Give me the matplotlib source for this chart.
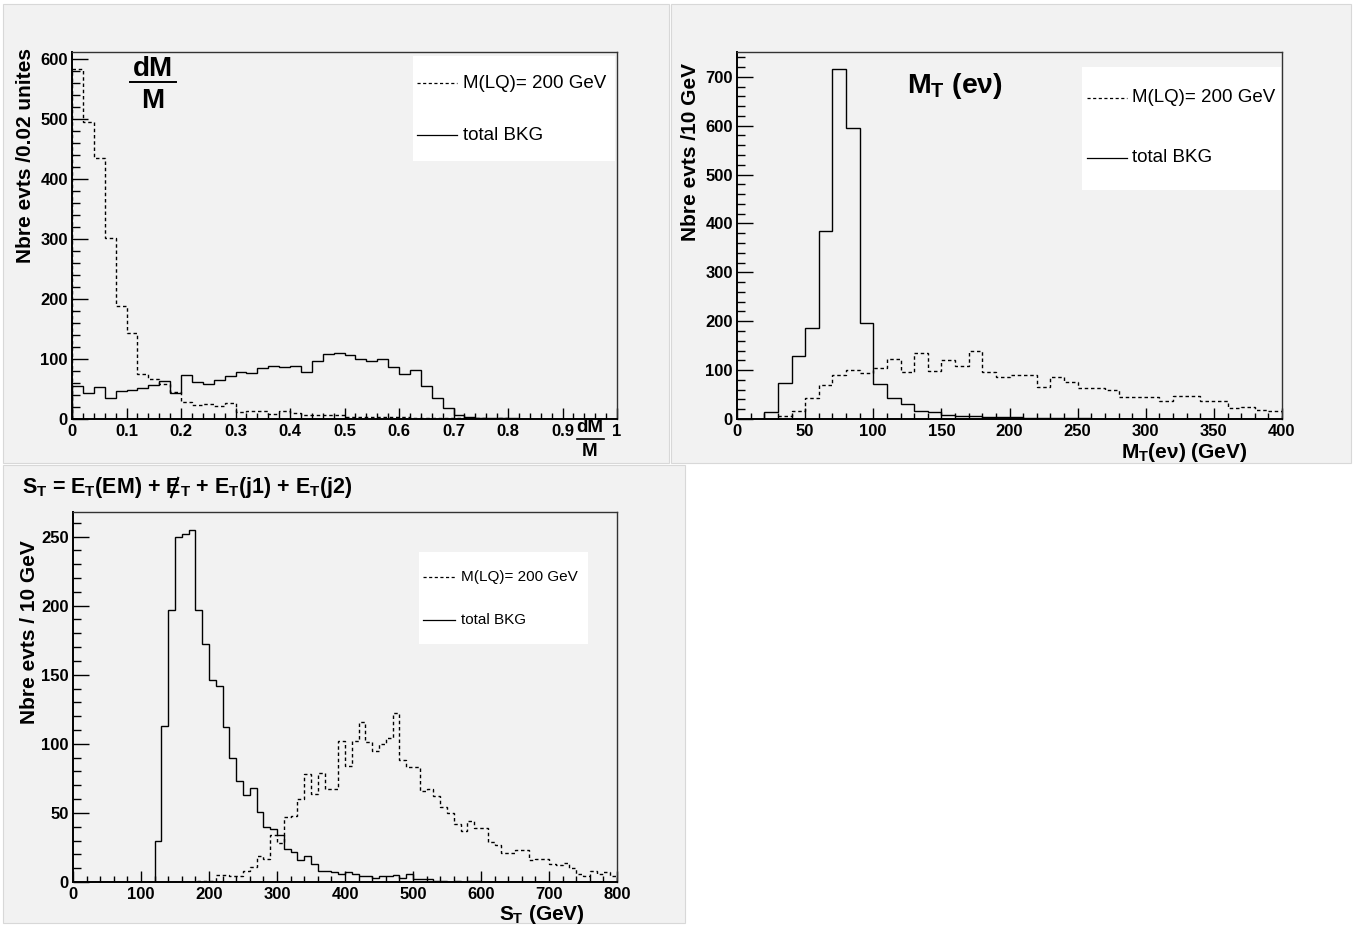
import numpy as np
import matplotlib
matplotlib.use("Agg")
import matplotlib.pyplot as plt
from matplotlib.patches import Rectangle
from matplotlib.lines import Line2D

plt.rcParams['font.family'] = ['Liberation Sans', 'DejaVu Sans']
plt.rcParams['mathtext.fontset'] = 'custom'
plt.rcParams['mathtext.rm'] = 'Liberation Sans:bold'
plt.rcParams['mathtext.it'] = 'Liberation Sans:bold'
plt.rcParams['mathtext.bf'] = 'Liberation Sans:bold'
plt.rcParams['mathtext.sf'] = 'Liberation Sans:bold'

# ---- data ----
# dM/M, 50 bins of 0.02 between 0 and 1
dm_edges = np.linspace(0, 1, 51)
sig_dm = [582, 494, 435, 302, 188, 143, 75, 66, 58, 45,
          29, 24, 25, 21, 27, 12, 14, 14, 9, 13,
          10, 7, 6, 6, 7, 3, 4, 3, 3, 4,
          3, 2, 2, 2, 2, 1, 1, 1, 0, 1,
          0, 0, 0, 0, 0, 0, 0, 0, 0, 0]
bkg_dm = [55, 44, 53, 35, 46, 49, 52, 57, 63, 43,
          74, 61, 58, 65, 72, 79, 76, 85, 88, 86,
          88, 78, 96, 109, 110, 107, 100, 97, 100, 86,
          75, 81, 55, 35, 18, 7, 4, 2, 1, 1,
          1, 0, 0, 0, 0, 0, 0, 0, 0, 0]

# M_T(e nu), 40 bins of 10 GeV between 0 and 400
mt_edges = np.linspace(0, 400, 41)
sig_mt = [0, 0, 0, 7, 17, 43, 70, 90, 101, 94,
          104, 122, 97, 134, 99, 121, 108, 140, 96, 85,
          89, 89, 65, 85, 75, 63, 63, 59, 44, 44,
          44, 37, 48, 48, 37, 37, 22, 24, 19, 17]
bkg_mt = [0, 0, 14, 73, 128, 187, 385, 715, 596, 197,
          71, 42, 31, 17, 14, 9, 7, 7, 5, 5,
          4, 3, 3, 2, 2, 2, 1, 1, 1, 1,
          1, 1, 0, 1, 0, 0, 0, 0, 0, 0]

# S_T, 80 bins of 10 GeV between 0 and 800
st_edges = np.linspace(0, 800, 81)
sig_st = [0, 0, 0, 0, 0, 0, 0, 0, 0, 0,
          0, 0, 0, 0, 0, 0, 0, 0, 1, 1,
          1, 5, 5, 4, 4, 8, 11, 19, 17, 34,
          28, 47, 48, 60, 78, 64, 79, 67, 67, 102,
          84, 102, 116, 101, 95, 100, 104, 122, 88, 83,
          83, 66, 67, 62, 54, 50, 42, 37, 44, 39,
          39, 29, 27, 21, 21, 23, 23, 16, 17, 17,
          13, 12, 14, 10, 6, 4, 8, 6, 7, 4]
bkg_st = [0, 0, 0, 0, 0, 0, 0, 0, 0, 0,
          0, 0, 30, 113, 197, 250, 252, 255, 197, 172,
          146, 142, 112, 90, 73, 63, 68, 51, 40, 38,
          34, 24, 22, 16, 19, 13, 8, 8, 7, 6,
          7, 6, 4, 4, 3, 4, 4, 5, 3, 6,
          2, 2, 2, 1, 1, 0, 1, 0, 1, 1,
          0, 0, 0, 0, 0, 0, 0, 0, 0, 0,
          0, 0, 0, 0, 0, 0, 0, 0, 0, 0]

sig_label = "M(LQ)= 200 GeV"
bkg_label = "total BKG"

W, H = 1354, 926
PAD = '#f2f2f2'
DASH = (0, (2.5, 2))
TICK_FS = 12


def fx(x):
    return x / W


def fy(y):
    return 1 - y / H


def rect(x0, y0, x1, y1):
    return [fx(x0), fy(y1), (x1 - x0) / W, (y1 - y0) / H]


fig = plt.figure(figsize=(W / 100, H / 100), dpi=100)
fig.patch.set_facecolor('white')
renderer = fig.canvas.get_renderer()

# pads
for (x0, y0, x1, y1) in [(3, 4, 669, 463), (671, 4, 1351, 463), (3, 465, 685, 923)]:
    fig.patches.append(Rectangle((fx(x0), fy(y1)), (x1 - x0) / W, (y1 - y0) / H,
                                 transform=fig.transFigure, facecolor=PAD,
                                 edgecolor='#d8d8d8', lw=0.8, zorder=-10))


def style_axes(ax, xlim, ylim, xmaj, xmin, ymaj, ymin):
    ax.set_facecolor(PAD)
    ax.set_xlim(*xlim)
    ax.set_ylim(*ylim)
    ax.set_xticks(np.arange(xlim[0], xlim[1] + xmaj / 2, xmaj))
    ax.set_xticks(np.arange(xlim[0], xlim[1] + xmin / 2, xmin), minor=True)
    ax.set_yticks(np.arange(0, ylim[1], ymaj))
    ax.set_yticks(np.arange(0, ylim[1], ymin), minor=True)
    ax.tick_params(axis='x', which='major', direction='in', length=8, width=1, pad=3.5,
                   labelsize=TICK_FS)
    ax.tick_params(axis='x', which='minor', direction='in', length=4, width=1)
    ax.tick_params(axis='y', which='major', direction='in', length=11.5, width=1, pad=3,
                   labelsize=TICK_FS)
    ax.tick_params(axis='y', which='minor', direction='in', length=6, width=1)
    for lab in ax.get_xticklabels() + ax.get_yticklabels():
        lab.set_fontweight('bold')
    for s in ['left', 'bottom']:
        ax.spines[s].set_linewidth(1.4)
        ax.spines[s].set_color('black')
    for s in ['top', 'right']:
        ax.spines[s].set_linewidth(1.0)
        ax.spines[s].set_color('#333333')


def legend_box(x0, y0, x1, y1, lx0, lx1, tx, ty1, ty2, size):
    fig.patches.append(Rectangle((fx(x0), fy(y1)), (x1 - x0) / W, (y1 - y0) / H,
                                 transform=fig.transFigure, facecolor='white',
                                 edgecolor='none', zorder=5))
    fig.lines.append(Line2D([fx(lx0), fx(lx1)], [fy(ty1), fy(ty1)], transform=fig.transFigure,
                            color='black', lw=0.9, linestyle=DASH, zorder=6))
    fig.lines.append(Line2D([fx(lx0), fx(lx1)], [fy(ty2), fy(ty2)], transform=fig.transFigure,
                            color='black', lw=0.9, zorder=6))
    fig.text(fx(tx), fy(ty1), sig_label, fontsize=size, va='center', ha='left', zorder=7)
    fig.text(fx(tx), fy(ty2), bkg_label, fontsize=size, va='center', ha='left', zorder=7)


# ---- panel 1 : dM/M ----
ax1 = fig.add_axes(rect(72, 52, 617, 419))
ax1.stairs(sig_dm, dm_edges, color='black', lw=1.0, linestyle=DASH)
ax1.stairs(bkg_dm, dm_edges, color='black', lw=1.0)
style_axes(ax1, (0, 1), (0, 1.05 * max(sig_dm)), 0.1, 0.02, 100, 20)
ax1.set_xticks(np.arange(0, 1.05, 0.1))
ax1.set_xticklabels(['0', '0.1', '0.2', '0.3', '0.4', '0.5', '0.6', '0.7', '0.8', '0.9', '1'],
                    fontweight='bold')
fig.text(fx(26), fy(48), "Nbre evts /0.02 unites", rotation=90, fontsize=15,
         fontweight='bold', ha='center', va='top')
# title fraction dM/M
fig.text(fx(153), fy(69), "dM", fontsize=20, fontweight='bold', ha='center', va='center')
fig.lines.append(Line2D([fx(130), fx(176)], [fy(82), fy(82)], transform=fig.transFigure,
                        color='black', lw=1.4))
fig.text(fx(153), fy(101), "M", fontsize=20, fontweight='bold', ha='center', va='center')
# x axis fraction label
fig.text(fx(590), fy(427), "dM", fontsize=13.5, fontweight='bold', ha='center', va='center')
fig.lines.append(Line2D([fx(577), fx(604)], [fy(439), fy(439)], transform=fig.transFigure,
                        color='black', lw=1.2))
fig.text(fx(590), fy(452), "M", fontsize=13.5, fontweight='bold', ha='center', va='center')
legend_box(413, 56, 615, 161, 417, 457, 463, 83, 135, 13.5)

# ---- panel 2 : M_T ----
ax2 = fig.add_axes(rect(737, 52, 1282, 419))
ax2.stairs(sig_mt, mt_edges, color='black', lw=1.0, linestyle=DASH)
ax2.stairs(bkg_mt, mt_edges, color='black', lw=1.0)
style_axes(ax2, (0, 400), (0, 1.05 * max(bkg_mt)), 50, 10, 100, 20)
fig.text(fx(691), fy(63), "Nbre evts /10 GeV", rotation=90, fontsize=15,
         fontweight='bold', ha='center', va='top')
fig.text(fx(907), fy(86), r"$M_T$ (e$\nu$)", fontsize=20.5, fontweight='bold',
         ha='left', va='center')
fig.text(fx(1248), fy(452), r"$M_T$(e$\nu$) (GeV)", fontsize=15, fontweight='bold',
         ha='right', va='center')
legend_box(1082, 67, 1281, 190, 1087, 1127, 1132, 98, 158, 13.5)

# ---- panel 3 : S_T ----
ax3 = fig.add_axes(rect(73, 512, 617, 882))
ax3.stairs(sig_st, st_edges, color='black', lw=1.0, linestyle=DASH)
ax3.stairs(bkg_st, st_edges, color='black', lw=1.0)
style_axes(ax3, (0, 800), (0, 1.05 * max(bkg_st)), 100, 20, 50, 10)
fig.text(fx(30), fy(540), "Nbre evts / 10 GeV", rotation=90, fontsize=15,
         fontweight='bold', ha='center', va='top')

title_fs = 15.5
title_kw = dict(fontsize=title_fs, fontweight='bold', ha='left', va='center')
fig.text(fx(22), fy(488), r"$S_T$ = $E_T$(EM) + $E_T$ + $E_T$(j1) + $E_T$(j2)", **title_kw)
# slash through the missing-E_T "E": measure where that E ends, draw a stroke
probe = fig.text(fx(22), fy(488), r"$S_T$ = $E_T$(EM) + E", **title_kw)
e_right = probe.get_window_extent(renderer).x1
probe.remove()
e_width = 0.667 * title_fs * 100 / 72
cx = e_right - 0.5 * e_width
fig.lines.append(Line2D([(cx - 3) / W, (cx + 4) / W], [fy(497), fy(478)],
                        transform=fig.transFigure, color='black', lw=1.6))

fig.text(fx(585), fy(914), r"$S_T$ (GeV)", fontsize=15, fontweight='bold',
         ha='right', va='center')
legend_box(419, 552, 588, 644, 423, 455, 461, 577, 620, 11)

fig.savefig("out.png", dpi=100)
